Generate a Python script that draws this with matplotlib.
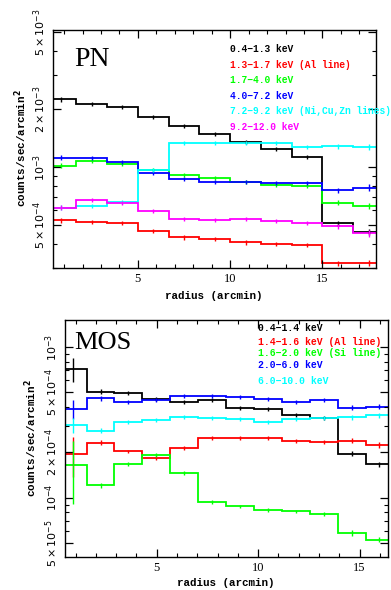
import numpy as np
import matplotlib
matplotlib.use("Agg")
import matplotlib.pyplot as plt
from matplotlib.ticker import FixedLocator, NullFormatter

# ---- PN data (counts/sec/arcmin^2), bins of 5/3 arcmin ----
pn_edges = np.arange(12) * 5.0 / 3.0
pn_labels = ["0.4\u22121.3 keV", "1.3\u22121.7 keV (Al line)", "1.7\u22124.0 keV",
             "4.0\u22127.2 keV", "7.2\u22129.2 keV (Ni,Cu,Zn lines)", "9.2\u221212.0 keV"]
pn_colors = ["black", "#ff0000", "#00ff00", "#0000ff", "#00ffff", "#ff00ff"]
pn_soft = [2.25e-3, 2.12e-3, 2.05e-3, 1.82e-3, 1.63e-3, 1.48e-3, 1.35e-3, 1.24e-3, 1.13e-3, 5.13e-4, 4.61e-4]
pn_al = [5.31e-4, 5.17e-4, 5.15e-4, 4.68e-4, 4.32e-4, 4.24e-4, 4.07e-4, 3.99e-4, 3.94e-4, 3.17e-4, 3.19e-4]
pn_mid = [1.015e-3, 1.078e-3, 1.036e-3, 9.65e-4, 9.09e-4, 8.74e-4, 8.33e-4, 8.07e-4, 8.0e-4, 6.53e-4, 6.28e-4]
pn_hard = [1.12e-3, 1.11e-3, 1.06e-3, 9.28e-4, 8.64e-4, 8.33e-4, 8.33e-4, 8.23e-4, 8.23e-4, 7.6e-4, 7.81e-4]
pn_lines = [6.15e-4, 6.28e-4, 6.61e-4, 9.65e-4, 1.33e-3, 1.336e-3, 1.336e-3, 1.33e-3, 1.27e-3, 1.28e-3, 1.27e-3]
pn_vhard = [6.15e-4, 6.75e-4, 6.53e-4, 5.92e-4, 5.4e-4, 5.3e-4, 5.36e-4, 5.27e-4, 5.15e-4, 4.95e-4, 4.53e-4]
pn_relerr = [0.03, 0.025, 0.025, 0.025, 0.025, 0.025, 0.025, 0.025, 0.025, 0.03, 0.04]
pn_series = [pn_soft, pn_al, pn_mid, pn_hard, pn_lines, pn_vhard]

# ---- MOS data ----
mos_edges = 0.17 + np.arange(13) * 1.375
mos_labels = ["0.4\u22121.4 keV", "1.4\u22121.6 keV (Al line)", "1.6\u22122.0 keV (Si line)",
              "2.0\u22126.0 keV", "6.0\u221210.0 keV"]
mos_colors = ["black", "#ff0000", "#00ff00", "#0000ff", "#00ffff"]
mos_soft = [7.12e-4, 5.06e-4, 4.98e-4, 4.5e-4, 4.3e-4, 4.46e-4, 3.96e-4, 3.87e-4, 3.53e-4, 3.4e-4, 1.96e-4, 1.67e-4]
mos_al = [1.95e-4, 2.32e-4, 2.03e-4, 1.85e-4, 2.15e-4, 2.49e-4, 2.49e-4, 2.51e-4, 2.39e-4, 2.34e-4, 2.39e-4, 2.24e-4]
mos_si = [1.65e-4, 1.21e-4, 1.67e-4, 1.93e-4, 1.46e-4, 9.37e-5, 8.76e-5, 8.33e-5, 8.12e-5, 7.8e-5, 5.84e-5, 5.27e-5]
mos_hard = [3.9e-4, 4.57e-4, 4.34e-4, 4.46e-4, 4.76e-4, 4.76e-4, 4.64e-4, 4.53e-4, 4.34e-4, 4.46e-4, 3.96e-4, 4.02e-4]
mos_vhard = [3.04e-4, 2.79e-4, 3.17e-4, 3.28e-4, 3.45e-4, 3.4e-4, 3.34e-4, 3.2e-4, 3.32e-4, 3.4e-4, 3.42e-4, 3.53e-4]
mos_relerr = [0.2, 0.04, 0.03, 0.03, 0.03, 0.03, 0.03, 0.03, 0.03, 0.03, 0.04, 0.04]
# first (innermost) bin has much larger errors, differs per band
mos_first_err = [0.18, 0.3, 0.45, 0.15, 0.12]
mos_series = [mos_soft, mos_al, mos_si, mos_hard, mos_vhard]

mono = "Liberation Mono"


def draw_panel(ax, edges, series, colors, relerr, first_err=None):
    centers = 0.5 * (edges[:-1] + edges[1:])
    for k, (vals, col) in enumerate(zip(series, colors)):
        vals = np.array(vals)
        ax.stairs(vals, edges, color=col, lw=1.3)
        rel = np.array(relerr, dtype=float)
        if first_err is not None:
            rel[0] = first_err[k]
        err = vals * rel
        ax.errorbar(centers, vals, yerr=err, fmt="none", ecolor=col, elinewidth=1.0, capsize=0)
    ax.set_yscale("log")
    ax.tick_params(which="both", direction="in", top=True, right=True)
    ax.tick_params(which="major", length=6, width=0.9)
    ax.tick_params(which="minor", length=3, width=0.8)
    ax.xaxis.set_major_locator(FixedLocator([5, 10, 15]))
    ax.xaxis.set_minor_locator(FixedLocator(np.arange(1, 18)))
    ax.set_xticklabels(["5", "10", "15"], family="Liberation Serif", fontsize=9)
    for s in ax.spines.values():
        s.set_linewidth(1.0)


fig = plt.figure(figsize=(3.91, 5.90), dpi=100)

# PN panel
ax1 = fig.add_axes([0.1355, 0.5458, 0.826, 0.4034])
draw_panel(ax1, pn_edges, pn_series, pn_colors, pn_relerr)
ax1.set_xlim(0.4, 17.9)
ax1.set_ylim(3.0e-4, 5.13e-3)
ax1.yaxis.set_major_locator(FixedLocator([5e-4, 1e-3, 2e-3, 5e-3]))
ax1.yaxis.set_minor_locator(FixedLocator([3e-4, 4e-4, 6e-4, 7e-4, 8e-4, 9e-4, 3e-3, 4e-3]))
ax1.yaxis.set_minor_formatter(NullFormatter())
ax1.set_yticklabels([r"$5\times10^{-4}$", r"$10^{-3}$", r"$2\times10^{-3}$", r"$5\times10^{-3}$"],
                    rotation=90, va="center", fontsize=8)
ax1.text(0.065, 0.93, "PN", transform=ax1.transAxes, family="Liberation Serif",
         fontsize=20, va="top", ha="left")
for i, (lab, col) in enumerate(zip(pn_labels, pn_colors)):
    ax1.text(0.548, 0.92 - i * 0.0655, lab, transform=ax1.transAxes, color=col,
             family=mono, weight="bold", fontsize=6.9, va="center", ha="left", clip_on=False)
fig.text(0.547, 1 - 296 / 590, "radius (arcmin)", family=mono, weight="bold",
         fontsize=7.8, ha="center", va="center")
fig.text(0.053, 1 - 148 / 590, "counts/sec/arcmin$^{\\mathbf{2}}$", family=mono, weight="bold",
         fontsize=7.8, ha="center", va="center", rotation=90)

# MOS panel
ax2 = fig.add_axes([0.1662, 0.0559, 0.826, 0.4017])
draw_panel(ax2, mos_edges, mos_series, mos_colors, mos_relerr, mos_first_err)
ax2.set_xlim(0.48, 16.4)
ax2.set_ylim(4.05e-5, 1.51e-3)
ax2.yaxis.set_major_locator(FixedLocator([5e-5, 1e-4, 2e-4, 5e-4, 1e-3]))
ax2.yaxis.set_minor_locator(FixedLocator([6e-5, 7e-5, 8e-5, 9e-5, 3e-4, 4e-4, 6e-4, 7e-4, 8e-4, 9e-4]))
ax2.yaxis.set_minor_formatter(NullFormatter())
ax2.set_yticklabels([r"$5\times10^{-5}$", r"$10^{-4}$", r"$2\times10^{-4}$", r"$5\times10^{-4}$", r"$10^{-3}$"],
                    rotation=90, va="center", fontsize=8)
ax2.text(0.03, 0.95, "MOS", transform=ax2.transAxes, family="Liberation Serif",
         fontsize=19, va="top", ha="left")
mos_ypos = [328, 341.7, 353, 365, 380.7]
for lab, col, yp in zip(mos_labels, mos_colors, mos_ypos):
    fig.text(258 / 391, 1 - yp / 590, lab, color=col,
             family=mono, weight="bold", fontsize=7.0, va="center", ha="left")
fig.text(226 / 391, 1 - 583 / 590, "radius (arcmin)", family=mono, weight="bold",
         fontsize=7.8, ha="center", va="center")
fig.text(31 / 391, 1 - 438 / 590, "counts/sec/arcmin$^{\\mathbf{2}}$", family=mono, weight="bold",
         fontsize=7.8, ha="center", va="center", rotation=90)

fig.savefig("out.png", dpi=100)
